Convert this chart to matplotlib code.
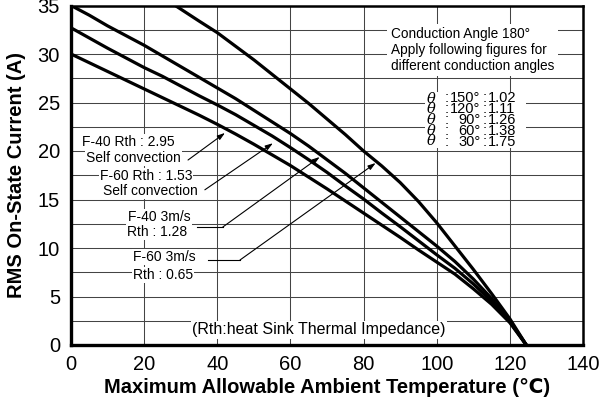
import matplotlib
matplotlib.use("Agg")
import matplotlib.pyplot as plt
from matplotlib.patches import Rectangle

# ---- data ----
# F-60 3m/s, Rth 0.65
c1_x = [28.5, 35, 40, 45, 50, 55, 60, 65, 70, 75, 80, 85, 90, 95, 100, 105, 110, 115, 120, 124.5]
c1_y = [35.0, 33.4, 32.2, 30.8, 29.4, 27.9, 26.4, 24.9, 23.3, 21.7, 20.0, 18.45, 16.75, 14.8, 12.6, 10.2, 7.8, 5.3, 2.7, 0.0]

# F-40 3m/s, Rth 1.28
c2_x = [0, 5, 10, 15, 20, 25, 30, 35, 40, 45, 50, 55, 60, 65, 70, 75, 80, 85, 90, 95, 100, 105, 110, 115, 120, 124.5]
c2_y = [35.0, 34.0, 32.9, 31.9, 30.9, 29.8, 28.7, 27.6, 26.5, 25.4, 24.2, 23.0, 21.8, 20.5, 19.1, 17.7, 16.2, 14.7, 13.2, 11.7, 10.2, 8.6, 6.8, 4.8, 2.5, 0.0]

# F-60 self convection, Rth 1.53
c3_x = [0, 5, 10, 15, 20, 25, 30, 35, 40, 45, 50, 55, 60, 65, 70, 75, 80, 85, 90, 95, 100, 105, 110, 115, 120, 124.5]
c3_y = [32.7, 31.65, 30.6, 29.6, 28.6, 27.7, 26.7, 25.7, 24.75, 23.75, 22.65, 21.55, 20.35, 19.1, 17.8, 16.4, 15.05, 13.6, 12.2, 10.75, 9.3, 7.9, 6.3, 4.5, 2.4, 0.0]

# F-40 self convection, Rth 2.95
c4_x = [0, 5, 10, 15, 20, 25, 30, 35, 40, 45, 50, 55, 60, 65, 70, 75, 80, 85, 90, 95, 100, 105, 110, 115, 120, 124.5]
c4_y = [30.0, 29.1, 28.2, 27.3, 26.4, 25.5, 24.6, 23.7, 22.75, 21.75, 20.7, 19.6, 18.5, 17.3, 16.1, 14.85, 13.6, 12.35, 11.1, 9.8, 8.55, 7.3, 5.8, 4.2, 2.3, 0.0]

x_ticks = [0, 20, 40, 60, 80, 100, 120, 140]
y_ticks = [0, 5, 10, 15, 20, 25, 30, 35]

angles = ["150°", "120°", "90°", "60°", "30°"]
factors = ["1.02", "1.11", "1.26", "1.38", "1.75"]

# ---- figure ----
SANS = ["Liberation Sans", "DejaVu Sans"]
plt.rcParams["font.family"] = SANS

fig = plt.figure(figsize=(6, 4), dpi=100)
ax = fig.add_axes([71 / 600, 1 - 345 / 400, (583 - 71) / 600, (345 - 5.5) / 400])
ax.set_xlim(0, 140)
ax.set_ylim(0, 35)

ax.set_xticks(x_ticks)
ax.set_yticks(y_ticks)
ax.set_yticks([2.5, 7.5, 12.5, 17.5, 22.5, 27.5, 32.5], minor=True)
ax.tick_params(axis="both", which="both", length=0, labelsize=14.5)
ax.tick_params(axis="x", pad=7)
ax.tick_params(axis="y", pad=8)
ax.grid(which="major", color="#444444", lw=0.75)
ax.grid(which="minor", axis="y", color="#444444", lw=0.75)
ax.set_axisbelow(True)

for s in ["left", "bottom"]:
    ax.spines[s].set_linewidth(2.4)
for s in ["top", "right"]:
    ax.spines[s].set_linewidth(1.8)

for xs, ys in [(c1_x, c1_y), (c2_x, c2_y), (c3_x, c3_y), (c4_x, c4_y)]:
    ax.plot(xs, ys, color="black", lw=2.3, solid_joinstyle="round",
            solid_capstyle="butt", zorder=3)

ax.set_xlabel("Maximum Allowable Ambient Temperature (℃)", fontsize=14.5,
              fontweight="bold", labelpad=3)
ax.set_ylabel("RMS On-State Current (A)", fontsize=14.5, fontweight="bold",
              labelpad=8)

wb = dict(facecolor="white", edgecolor="none", pad=0.6)
afs = 10

# left side labels
ax.text(3.0, 20.93, "F-40 Rth : 2.95", fontsize=afs, va="center", bbox=wb, zorder=2)
ax.text(4.1, 19.28, "Self convection", fontsize=afs, va="center", bbox=wb, zorder=2)
ax.text(7.9, 17.42, "F-60 Rth : 1.53", fontsize=afs, va="center", bbox=wb, zorder=2)
ax.text(8.7, 15.9, "Self convection", fontsize=afs, va="center", bbox=wb, zorder=2)
ax.text(15.6, 13.23, "F-40 3m/s", fontsize=afs, va="center", bbox=wb, zorder=2)
ax.text(15.3, 11.68, "Rth : 1.28", fontsize=afs, va="center", bbox=wb, zorder=2)
ax.text(17.0, 9.04, "F-60 3m/s", fontsize=afs, va="center", bbox=wb, zorder=2)
ax.text(17.0, 7.22, "Rth : 0.65", fontsize=afs, va="center", bbox=wb, zorder=2)

arrow = dict(arrowstyle="-|>,head_length=0.45,head_width=0.15", lw=0.8,
             color="black", shrinkA=0, shrinkB=0)
# leaders
ax.annotate("", xy=(42.1, 21.86), xytext=(32.0, 19.07), arrowprops=arrow, zorder=4)
ax.annotate("", xy=(55.2, 20.8), xytext=(36.6, 16.0), arrowprops=arrow, zorder=4)
ax.plot([34.4, 41.5], [12.16, 12.16], color="black", lw=0.8, zorder=4)
ax.annotate("", xy=(68.0, 19.38), xytext=(41.5, 12.16), arrowprops=arrow, zorder=4)
ax.plot([37.4, 46.2], [8.76, 8.76], color="black", lw=0.8, zorder=4)
ax.annotate("", xy=(83.3, 18.76), xytext=(46.2, 8.76), arrowprops=arrow, zorder=4)

# conduction angle block
cb = dict(facecolor="white", edgecolor="none", pad=2.5)
ax.text(87.4, 30.4, "Conduction Angle 180°\nApply following figures for\ndifferent conduction angles",
        fontsize=9.8, va="center", ha="left", linespacing=1.15, bbox=cb, zorder=2)

# white backing behind the factor table
ax.add_patch(Rectangle((96.9, 20.3), 27.6, 5.75, facecolor="white",
                       edgecolor="none", zorder=1))
tfs = 10.5
ls = 0.72
yc = 23.2
ax.text(98.4, yc, "\n".join(["θ"] * len(angles)), fontsize=10.5, va="center",
        ha="center", family=["DejaVu Serif"], style="italic",
        linespacing=0.70, zorder=2)
ax.text(102.6, yc, "\n".join([":"] * len(angles)), fontsize=tfs, va="center",
        ha="center", linespacing=ls, zorder=2)
ax.text(112.0, yc, "\n".join(angles), fontsize=tfs, va="center", ha="right",
        multialignment="right", linespacing=ls, zorder=2)
ax.text(113.1, yc, "\n".join([":"] * len(angles)), fontsize=tfs, va="center",
        ha="center", linespacing=ls, zorder=2)
ax.text(114.0, yc, "\n".join(factors), fontsize=tfs, va="center", ha="left",
        linespacing=ls, zorder=2)

ax.text(67.8, 1.55, "(Rth:heat Sink Thermal Impedance)", fontsize=11.5, va="center",
        ha="center", bbox=dict(facecolor="white", edgecolor="none", pad=1.0), zorder=2)

fig.savefig("out.png", dpi=100)
